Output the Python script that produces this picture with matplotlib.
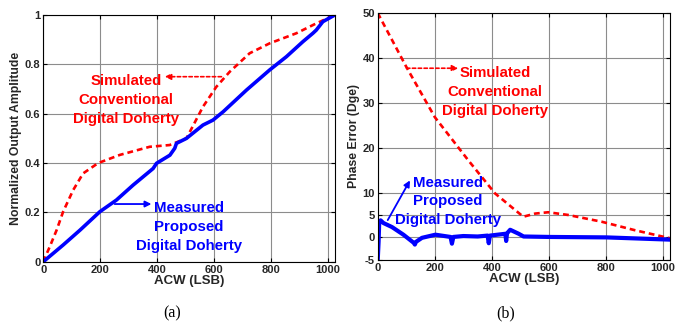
import numpy as np
import matplotlib
matplotlib.use("Agg")
import matplotlib.pyplot as plt

plt.rcParams['font.family'] = ['Liberation Sans', 'DejaVu Sans']

# (a) normalized output amplitude vs ACW
amp_sim_x = [0, 23, 47, 70, 105, 140, 193, 269, 374, 444, 503, 561, 608, 655, 725, 795, 889, 959, 1024]
amp_sim_y = [0, 0.061, 0.128, 0.203, 0.29, 0.358, 0.40, 0.433, 0.466, 0.473, 0.50, 0.628, 0.709, 0.77,
             0.845, 0.885, 0.926, 0.966, 1.0]
amp_meas_x = [0, 70, 129, 199, 257, 316, 386, 398, 445, 462, 468, 503, 561, 596, 632, 714, 795, 854,
              912, 947, 959, 982, 1024]
amp_meas_y = [0, 0.068, 0.128, 0.203, 0.25, 0.311, 0.378, 0.399, 0.432, 0.46, 0.48, 0.50, 0.554,
              0.574, 0.608, 0.696, 0.777, 0.831, 0.892, 0.926, 0.939, 0.973, 1.0]

# (b) phase error vs ACW
ph_sim_x = [0, 101, 200, 317, 411, 510, 551, 597, 667, 784, 901, 1024]
ph_sim_y = [50, 37.9, 26.8, 17.2, 9.8, 4.6, 5.3, 5.6, 5.0, 3.5, 1.6, -0.2]
ph_meas_x = [0, 3, 5, 10, 20, 50, 90, 126, 130, 134, 155, 202, 255, 260, 265, 300, 350, 385, 389, 393,
             447, 450, 453, 464, 494, 511, 600, 800, 1024]
ph_meas_y = [-5, -1, 3.0, 3.8, 3.2, 2.3, 0.6, -1.2, -1.6, -1.0, -0.1, 0.6, 0.1, -1.4, 0.1, 0.3, 0.2,
             0.4, -1.3, 0.4, 0.8, -0.8, 0.9, 1.7, 0.8, 0.2, 0.1, 0.0, -0.5]

xticks = [0, 200, 400, 600, 800, 1000]
yticks_a = [0, 0.2, 0.4, 0.6, 0.8, 1]
ytick_labels_a = ['0', '0.2', '0.4', '0.6', '0.8', '1']
yticks_b = [-5, 0, 5, 10, 20, 30, 40, 50]

fig = plt.figure(figsize=(6.75, 3.26), dpi=100)
ax1 = fig.add_axes([0.064, 0.197, 0.432, 0.757])
ax2 = fig.add_axes([0.5596, 0.203, 0.433, 0.757])

red = '#ff0000'
blue = '#0000ff'
dark = '#262626'
tick_font = dict(fontsize=8, fontweight='bold', color=dark)
label_font = dict(fontsize=9.5, fontweight='bold', color=dark)
note_font = dict(fontsize=10.8, fontweight='bold', ha='center', va='center', linespacing=1.45)

for ax in (ax1, ax2):
    ax.set_xlim(0, 1024)
    ax.set_xticks(xticks)
    ax.set_xticklabels([str(t) for t in xticks], **tick_font)
    ax.grid(True, color='#8c8c8c', lw=0.8)
    ax.tick_params(direction='in', top=True, right=True, length=3, pad=2)
    ax.set_xlabel('ACW (LSB)', labelpad=0, **label_font)
    for s in ax.spines.values():
        s.set_linewidth(0.8)

ax1.plot(amp_sim_x, amp_sim_y, color=red, lw=1.9, dashes=(2.2, 1.5))
ax1.plot(amp_meas_x, amp_meas_y, color=blue, lw=2.6)
ax1.set_ylim(0, 1)
ax1.set_yticks(yticks_a)
ax1.set_yticklabels(ytick_labels_a, **tick_font)
ax1.set_ylabel('Normalized Output Amplitude', labelpad=2, fontsize=8.8, fontweight='bold', color=dark)

ax1.text(290, 0.655, 'Simulated\nConventional\nDigital Doherty', color=red, **note_font)
ax1.annotate('', xy=(427, 0.75), xytext=(626, 0.75),
             arrowprops=dict(arrowstyle='-|>', color=red, lw=1.2, ls=(0, (2, 1.5)),
                             mutation_scale=9, shrinkA=0, shrinkB=0))
ax1.text(512, 0.142, 'Measured\nProposed\nDigital Doherty', color=blue, **note_font)
ax1.annotate('', xy=(380, 0.234), xytext=(251, 0.234),
             arrowprops=dict(arrowstyle='-|>', color=blue, lw=1.3,
                             mutation_scale=9, shrinkA=0, shrinkB=0))

ax2.plot(ph_sim_x, ph_sim_y, color=red, lw=1.9, dashes=(2.2, 1.5))
ax2.plot(ph_meas_x, ph_meas_y, color=blue, lw=3)
ax2.set_ylim(-5, 50)
ax2.set_yticks(yticks_b)
ax2.set_yticklabels([str(t) for t in yticks_b], **tick_font)
ax2.set_ylabel('Phase Error (Dge)', labelpad=2, fontsize=8.8, fontweight='bold', color=dark)

ax2.text(411, 32.4, 'Simulated\nConventional\nDigital Doherty', color=red, **note_font)
ax2.annotate('', xy=(282, 37.7), xytext=(101, 37.7),
             arrowprops=dict(arrowstyle='-|>', color=red, lw=1.2, ls=(0, (2, 1.5)),
                             mutation_scale=9, shrinkA=0, shrinkB=0))
ax2.text(246, 8.0, 'Measured\nProposed\nDigital Doherty', color=blue, **note_font)
ax2.annotate('', xy=(113, 12.7), xytext=(35, 3.85),
             arrowprops=dict(arrowstyle='-|>', color=blue, lw=1.3,
                             mutation_scale=9, shrinkA=0, shrinkB=0))

fig.text(172 / 675, 1 - 313 / 326, '(a)', family='Liberation Serif', fontsize=11.5,
         ha='center', va='center')
fig.text(506 / 675, 1 - 313 / 326, '(b)', family='Liberation Serif', fontsize=11.5,
         ha='center', va='center')

fig.savefig('out.png', dpi=100)
